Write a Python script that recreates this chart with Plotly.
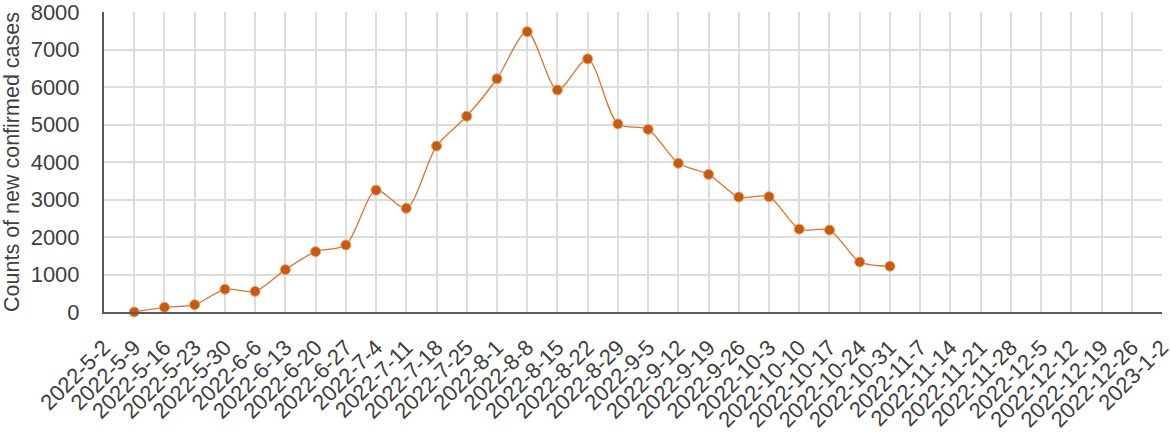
import plotly.graph_objects as go

weeks = ["2022-5-2", "2022-5-9", "2022-5-16", "2022-5-23", "2022-5-30", "2022-6-6",
         "2022-6-13", "2022-6-20", "2022-6-27", "2022-7-4", "2022-7-11", "2022-7-18",
         "2022-7-25", "2022-8-1", "2022-8-8", "2022-8-15", "2022-8-22", "2022-8-29",
         "2022-9-5", "2022-9-12", "2022-9-19", "2022-9-26", "2022-10-3", "2022-10-10",
         "2022-10-17", "2022-10-24", "2022-10-31", "2022-11-7", "2022-11-14", "2022-11-21",
         "2022-11-28", "2022-12-5", "2022-12-12", "2022-12-19", "2022-12-26", "2023-1-2"]

# weeks with reported counts (5-9 .. 10-31)
case_weeks = weeks[1:27]
new_cases = [0, 125, 195, 605, 550, 1130, 1610, 1785, 3250, 2765, 4425, 5220, 6220,
             7475, 5920, 6750, 5015, 4870, 3965, 3670, 3065, 3075, 2210, 2185, 1335, 1220]

y_ticks = [0, 1000, 2000, 3000, 4000, 5000, 6000, 7000, 8000]

font_family = "Liberation Sans, Arial, sans-serif"
text_col = "#404040"

fig = go.Figure()
fig.add_trace(go.Scatter(
    x=case_weeks, y=new_cases,
    mode="lines+markers",
    line=dict(color="#DB7430", width=1.3, shape="spline", smoothing=0.8),
    marker=dict(color="#C55A11", size=10, line=dict(color="#E8A070", width=1)),
    cliponaxis=False,
    showlegend=False,
))

fig.update_xaxes(
    type="category", categoryorder="array", categoryarray=weeks,
    range=[0, len(weeks) - 1], automargin=False,
    tickangle=-45, tickfont=dict(size=22, color=text_col, family=font_family),
    showgrid=True, gridcolor="#DDDDDD", gridwidth=1.5,
    showline=True, linecolor="#595959", linewidth=2,
    ticks="", ticklabelstandoff=12, ticklabeloverflow="allow",
)
fig.update_yaxes(
    range=[0, 8000], tickvals=y_ticks, automargin=False,
    tickfont=dict(size=22, color=text_col, family=font_family),
    showgrid=True, gridcolor="#DDDDDD", gridwidth=1.5,
    showline=True, linecolor="#595959", linewidth=2,
    zeroline=False, ticks="", ticklabelstandoff=18, ticklabeloverflow="allow",
    title=dict(text="Counts of new confirmed cases",
               font=dict(size=21.5, color=text_col, family=font_family), standoff=6),
)
fig.update_layout(
    width=1170, height=432,
    margin=dict(l=104, r=8, t=12, b=120),
    paper_bgcolor="white", plot_bgcolor="white",
)

# drop the browser's default body margin so the figure fills the window
fig.write_html("out.html", config={"displayModeBar": False},
               post_script="document.body.style.margin = '0';")
